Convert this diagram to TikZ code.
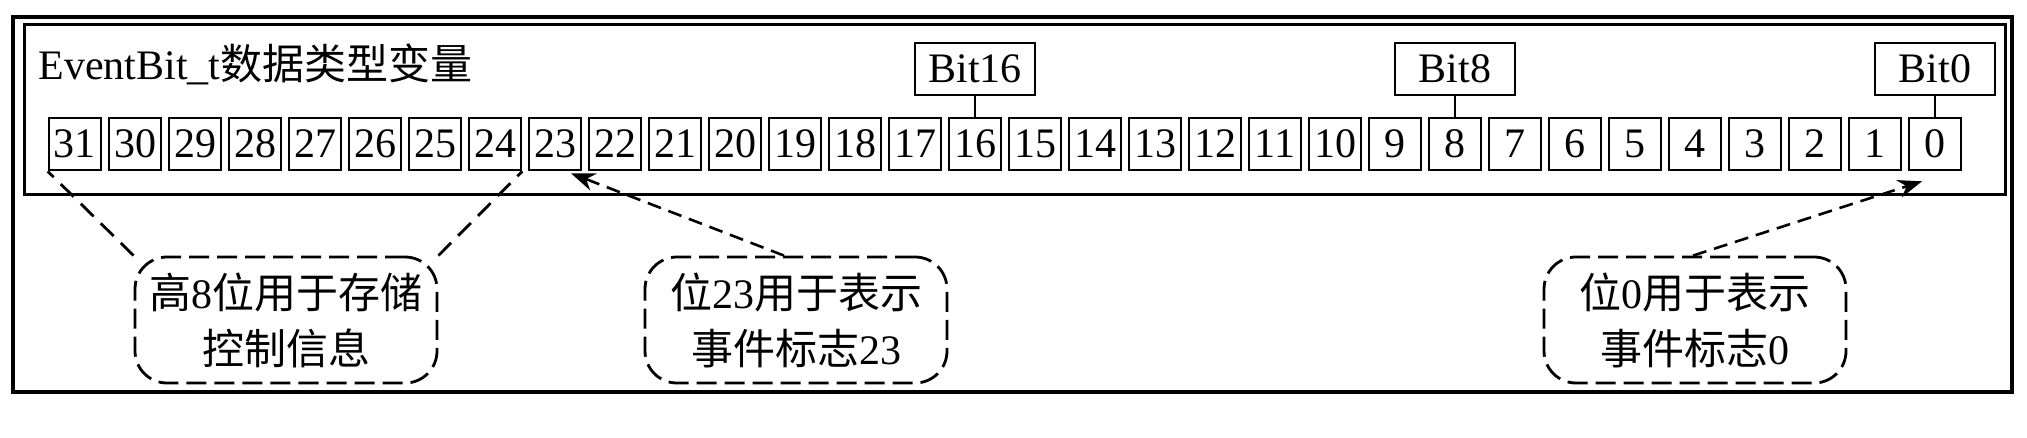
\documentclass[tikz,border=0pt]{standalone}
\usepackage{fontspec}
\setmainfont{Liberation Serif}
\newfontfamily\cjk{Noto Sans CJK SC}
\usetikzlibrary{arrows.meta,calc}
\tikzset{
  bitbox/.style={draw, line width=1.3pt, minimum width=26pt, minimum height=26pt, inner sep=0pt, font=\fontsize{21}{24}\selectfont},
  labelbox/.style={draw, line width=1.3pt, minimum width=60pt, minimum height=26pt, inner sep=0pt, font=\fontsize{21}{24}\selectfont},
  callout/.style={draw, dashed, dash pattern=on 10pt off 4pt, line width=1.4pt, rounded corners=16pt, minimum width=151pt, minimum height=63pt, inner sep=0pt, align=center, font=\fontsize{21}{28}\selectfont},
  dline/.style={dashed, dash pattern=on 9pt off 5pt, line width=1.4pt},
  darrow/.style={dashed, dash pattern=on 7pt off 4pt, line width=1.3pt, -{Stealth[length=12pt,width=9pt,fill=black]}},
}
\begin{document}
\begin{tikzpicture}[x=0.5pt,y=-0.5pt]
\useasboundingbox (0,0) rectangle (2027,438);
% frames
\draw[line width=2pt] (13,17) rectangle (2012,392);
\draw[line width=1.5pt] (24,25) rectangle (2005,195);
% title
\node[anchor=base west, inner sep=0pt, font=\fontsize{21}{24}\selectfont] (title) at (38,80) {EventBit\_t{\cjk 数据类型变量}};
% bit boxes
\foreach \i in {0,...,31} {
  \node[bitbox] (b\i) at ({75+(31-\i)*60},144) {\i};
}
% bit labels
\node[labelbox] (l16) at (b16 |- 0,69) {Bit16};
\node[labelbox] (l8) at (b8 |- 0,69) {Bit8};
\node[labelbox] (l0) at (b0 |- 0,69) {Bit0};
\draw[line width=1.2pt] (l16.south) -- (b16.north);
\draw[line width=1.2pt] (l8.south) -- (b8.north);
\draw[line width=1.2pt] (l0.south) -- (b0.north);
% callouts
\node[callout] (c1) at (286,320) {{\cjk 高}8{\cjk 位用于存储}\\{\cjk 控制信息}};
\node[callout] (c2) at (796,320) {{\cjk 位}23{\cjk 用于表示}\\{\cjk 事件标志}23};
\node[callout] (c3) at (1695,320) {{\cjk 位}0{\cjk 用于表示}\\{\cjk 事件标志}0};
% connectors
\draw[dline] (c1.north west) -- (b31.south west);
\draw[dline] (c1.north east) -- (b24.south east);
\coordinate (a2s) at ($(c2.north)+(-12,0)$);
\coordinate (a2e) at ($(b23.south)+(16,2)$);
\draw[darrow] (a2s) -- (a2e);
\coordinate (a3s) at ($(c3.north)+(-2,0)$);
\coordinate (a3e) at ($(b0.south)+(-13,10)$);
\draw[darrow] (a3s) -- (a3e);
\end{tikzpicture}
\end{document}
